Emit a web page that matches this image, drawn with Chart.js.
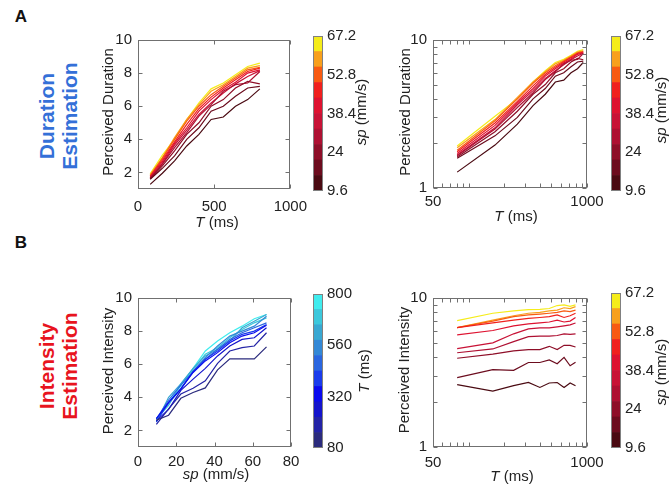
<!DOCTYPE html>
<html>
<head>
<meta charset="utf-8">
<script src="https://cdn.jsdelivr.net/npm/chart.js@4.4.0/dist/chart.umd.min.js"></script>
<style>
  body { margin: 0; background: #fff; font-family: "Liberation Sans", Arial, sans-serif; }
  #fig { position: relative; width: 670px; height: 491px; overflow: hidden; }
  #fig canvas { position: absolute; }
  .lbl { position: absolute; white-space: nowrap; color: #222; font-size: 15px; line-height: 18px; transform: translate(-50%, -50%); }
  .rot { transform: translate(-50%, -50%) rotate(-90deg); }
  .letter { position: absolute; font-weight: bold; font-size: 17px; color: #111; transform: translate(-50%, -50%); }
  .side { position: absolute; font-weight: bold; font-size: 21px; line-height: 23px; text-align: center; white-space: nowrap; transform: translate(-50%, -50%) rotate(-90deg); }
</style>
</head>
<body>
<div id="fig">
  <canvas id="durLin"></canvas>
  <canvas id="durLog"></canvas>
  <canvas id="intLin"></canvas>
  <canvas id="intLog"></canvas>
  <canvas id="cbA1"></canvas>
  <canvas id="cbA2"></canvas>
  <canvas id="cbB1"></canvas>
  <canvas id="cbB2"></canvas>

  <div class="letter" style="left:21px; top:17px;">A</div>
  <div class="letter" style="left:21px; top:243px;">B</div>
  <div class="side" style="left:58px; top:116px; color:#3470d8;">Duration<br>Estimation</div>
  <div class="side" style="left:58px; top:366px; color:#e8141e;">Intensity<br>Estimation</div>

  <div class="lbl rot" style="left:108px; top:112px;">Perceived Duration</div>
  <div class="lbl rot" style="left:405px; top:112px;">Perceived Duration</div>
  <div class="lbl rot" style="left:108px; top:371px;">Perceived Intensity</div>
  <div class="lbl rot" style="left:404px; top:370px;">Perceived Intensity</div>

  <div class="lbl" style="left:217px; top:222px;"><i>T</i> (ms)</div>
  <div class="lbl" style="left:516px; top:216px;"><i>T</i> (ms)</div>
  <div class="lbl" style="left:216px; top:474px;"><i>sp</i> (mm/s)</div>
  <div class="lbl" style="left:512px; top:476px;"><i>T</i> (ms)</div>

  <div class="lbl rot" style="left:361px; top:112px;"><i>sp</i> (mm/s)</div>
  <div class="lbl rot" style="left:661px; top:110px;"><i>sp</i> (mm/s)</div>
  <div class="lbl rot" style="left:364px; top:371px;"><i>T</i> (ms)</div>
  <div class="lbl rot" style="left:661px; top:372px;"><i>sp</i> (mm/s)</div>
</div>

<script>
// stimulus levels
const tValues = [80, 160, 240, 320, 400, 480, 560, 640, 720, 800];
const tValuesLogPlot = [80, 167, 258, 350, 444, 540, 636, 733, 831, 930];
const spValues = [9.6, 16, 22.4, 28.8, 35.2, 41.6, 48, 54.4, 60.8, 67.2];

// rows = speed (low -> high), columns = T
const durationBySpeed = [
  [1.28, 1.95, 2.7, 3.6, 4.3, 5.2, 5.35, 6.0, 6.4, 7.05],
  [1.59, 2.25, 3.0, 4.0, 4.7, 5.7, 6.0, 6.6, 7.1, 7.2],
  [1.62, 2.4, 3.3, 4.3, 5.0, 6.0, 6.4, 7.1, 7.5, 7.35],
  [1.65, 2.5, 3.5, 4.4, 5.4, 6.1, 6.9, 7.3, 7.4, 8.1],
  [1.67, 2.55, 3.65, 4.55, 5.5, 6.2, 6.8, 7.35, 7.8, 8.15],
  [1.71, 2.65, 3.75, 4.7, 5.7, 6.4, 7.0, 7.45, 8.0, 8.2],
  [1.76, 2.75, 3.85, 4.9, 5.85, 6.55, 7.1, 7.6, 8.1, 8.3],
  [1.8, 2.85, 4.0, 5.1, 6.0, 6.7, 7.2, 7.7, 8.2, 8.35],
  [1.87, 2.9, 4.1, 5.2, 6.1, 6.9, 7.3, 7.8, 8.3, 8.45],
  [1.92, 3.05, 4.0, 5.2, 6.2, 7.05, 7.4, 7.9, 8.4, 8.6]
];

const intensityBySpeed = [
  [2.62, 2.37, 2.58, 2.71, 2.51, 2.69, 2.71, 2.51, 2.69, 2.58],
  [2.92, 3.31, 3.27, 3.69, 3.69, 3.84, 3.62, 4.0, 3.51, 3.71],
  [3.94, 4.2, 4.42, 4.51, 4.51, 4.74, 4.51, 4.81, 4.81, 4.69],
  [4.29, 4.55, 5.1, 5.5, 5.55, 5.55, 5.6, 5.75, 5.7, 5.75],
  [4.57, 5.0, 5.75, 6.2, 6.3, 6.3, 6.4, 6.5, 6.6, 6.8],
  [5.66, 6.05, 6.5, 6.7, 6.8, 6.9, 7.1, 6.9, 7.0, 7.4],
  [6.32, 6.8, 7.1, 7.3, 7.4, 7.5, 7.7, 7.4, 7.6, 7.9],
  [6.32, 7.0, 7.5, 7.7, 7.8, 7.9, 8.0, 8.2, 8.1, 8.3],
  [6.32, 7.1, 7.6, 7.9, 8.0, 8.2, 8.3, 8.6, 8.5, 8.75],
  [7.05, 7.9, 8.2, 8.35, 8.4, 8.5, 8.9, 9.0, 8.8, 9.0]
];

const spColors = ["#4a0a12", "#6c0c1e", "#8e0e28", "#ae1032", "#c81236", "#de1230", "#f0201e", "#f85a12", "#f8a01c", "#f5ec1a"];
const tColors = ["#2b2b7d", "#2323a6", "#1414cc", "#0a0aee", "#1a3cec", "#2a66e0", "#3388d6", "#39a8d2", "#3cc8dc", "#40ecee"];

// colorbars
const spBandEdges = [9.6, 15.36, 21.12, 26.88, 32.64, 38.4, 44.16, 49.92, 55.68, 61.44, 67.2];
const tBandEdges = [80, 152, 224, 296, 368, 440, 512, 584, 656, 728, 800];
const spBarTicks = [9.6, 24, 38.4, 52.8, 67.2];
const tBarTicks = [80, 320, 560, 800];

// axis ticks
const tLinTicks = [0, 500, 1000];
const spLinTicks = [0, 20, 40, 60, 80];
const yLinTicks = [2, 4, 6, 8, 10];
const xLogTicks = [50, 60, 70, 80, 90, 100, 200, 300, 400, 500, 600, 700, 800, 900, 1000];
const xLogLabels = [50, 1000];
const yLogTicks = [1, 2, 3, 4, 5, 6, 7, 8, 9, 10];
const yLogLabels = [1, 10];

const FONT = { family: '"Liberation Sans", Arial, sans-serif', size: 15 };
const Y_W = 43, X_H = 30, PAD_T = 10, PAD_R = 24;

// box around the axes with inward ticks, matlab style
const boxTicks = {
  id: "boxTicks",
  afterDraw(chart) {
    const { ctx, chartArea: a } = chart;
    const x = chart.scales.x, y = chart.scales.y;
    const l = Math.round(a.left) + 0.5, r = Math.round(a.right) - 0.5;
    const t = Math.round(a.top) + 0.5, b = Math.round(a.bottom) - 0.5;
    ctx.save();
    ctx.strokeStyle = "#707070";
    ctx.lineWidth = 1;
    ctx.strokeRect(l, t, r - l, b - t);
    ctx.beginPath();
    x.ticks.forEach(tk => {
      const px = Math.round(x.getPixelForValue(tk.value)) + 0.5;
      ctx.moveTo(px, b); ctx.lineTo(px, b - 4);
      ctx.moveTo(px, t); ctx.lineTo(px, t + 4);
    });
    y.ticks.forEach(tk => {
      const py = Math.round(y.getPixelForValue(tk.value)) + 0.5;
      ctx.moveTo(l, py); ctx.lineTo(l + 4, py);
      ctx.moveTo(r, py); ctx.lineTo(r - 4, py);
    });
    ctx.stroke();
    ctx.restore();
  }
};

const barBorder = {
  id: "barBorder",
  afterDraw(chart) {
    const { ctx, chartArea: a } = chart;
    ctx.save();
    ctx.strokeStyle = "#808080";
    ctx.lineWidth = 1;
    ctx.strokeRect(Math.round(a.left) + 0.5, Math.round(a.top) + 0.5, Math.round(a.width) - 1, Math.round(a.height) - 1);
    ctx.restore();
  }
};

function axis(type, min, max, tickVals, labelVals, pos, pad) {
  return {
    type, min, max, position: pos,
    grid: { display: false, drawTicks: false },
    border: { display: false },
    afterBuildTicks: ax => { ax.ticks = tickVals.map(v => ({ value: v })); },
    afterFit: ax => { if (pos === "left") ax.width = Y_W; else ax.height = X_H; },
    ticks: {
      autoSkip: false, maxRotation: 0, padding: pad, color: "#222", font: FONT,
      callback: v => labelVals.includes(v) ? String(v) : ""
    }
  };
}

function linePanel(id, area, datasets, xAxis, yAxis) {
  const cv = document.getElementById(id);
  cv.width = area.r - area.l + Y_W + PAD_R;
  cv.height = area.b - area.t + PAD_T + X_H;
  cv.style.left = (area.l - Y_W) + "px";
  cv.style.top = (area.t - PAD_T) + "px";
  new Chart(cv, {
    type: "line",
    data: { datasets },
    options: {
      responsive: false,
      animation: false,
      layout: { padding: { top: PAD_T, right: PAD_R, left: 0, bottom: 0 } },
      plugins: { legend: { display: false }, tooltip: { enabled: false } },
      elements: { point: { radius: 0 }, line: { borderWidth: 1.2, tension: 0 } },
      scales: { x: xAxis, y: yAxis }
    },
    plugins: [boxTicks]
  });
}

function colorBar(id, bar, edges, colors, tickVals) {
  const cv = document.getElementById(id);
  cv.width = bar.r - bar.l + 45;
  cv.height = bar.b - bar.t + 20;
  cv.style.left = bar.l + "px";
  cv.style.top = (bar.t - 10) + "px";
  const datasets = colors.map((c, i) => ({
    data: [[edges[i], edges[i + 1]]],
    backgroundColor: c,
    borderWidth: 0,
    barPercentage: 1,
    categoryPercentage: 1,
    grouped: false
  }));
  new Chart(cv, {
    type: "bar",
    data: { labels: [""], datasets },
    options: {
      responsive: false,
      animation: false,
      layout: { padding: { top: 10, bottom: 10, left: 0, right: 0 } },
      plugins: { legend: { display: false }, tooltip: { enabled: false } },
      scales: {
        x: { display: false, stacked: true },
        y: {
          position: "right", min: edges[0], max: edges[edges.length - 1],
          grid: { display: false, drawTicks: false },
          border: { display: false },
          afterBuildTicks: ax => { ax.ticks = tickVals.map(v => ({ value: v })); },
          afterFit: ax => { ax.width = 45; },
          ticks: { padding: 4, autoSkip: false, color: "#222", font: FONT, callback: v => String(v) }
        }
      }
    },
    plugins: [barBorder]
  });
}

// A: duration, one line per speed
const durLinSets = spValues.map((s, i) => ({
  data: tValues.map((t, j) => ({ x: t, y: durationBySpeed[i][j] })),
  borderColor: spColors[i]
}));
const durLogSets = spValues.map((s, i) => ({
  data: tValuesLogPlot.map((t, j) => ({ x: t, y: durationBySpeed[i][j] })),
  borderColor: spColors[i]
}));

// B left: intensity vs speed, one line per T
const intLinSets = tValues.map((t, j) => ({
  data: spValues.map((s, i) => ({ x: s, y: intensityBySpeed[i][j] })),
  borderColor: tColors[j]
}));
// B right: intensity vs T, one line per speed
const intLogSets = spValues.map((s, i) => ({
  data: tValues.map((t, j) => ({ x: t, y: intensityBySpeed[i][j] })),
  borderColor: spColors[i]
}));

linePanel("durLin", { l: 138, r: 292, t: 35, b: 189 }, durLinSets,
  axis("linear", 0, 1000, tLinTicks, tLinTicks, "bottom", 9),
  axis("linear", 1, 10, yLinTicks, yLinTicks, "left", 6));

linePanel("durLog", { l: 433, r: 587, t: 35, b: 188 }, durLogSets,
  axis("logarithmic", 50, 1000, xLogTicks, xLogLabels, "bottom", 5),
  axis("logarithmic", 1, 10, yLogTicks, yLogLabels, "left", 6));

linePanel("intLin", { l: 138, r: 291, t: 293, b: 447 }, intLinSets,
  axis("linear", 0, 80, spLinTicks, spLinTicks, "bottom", 6),
  axis("linear", 1, 10, yLinTicks, yLinTicks, "left", 6));

linePanel("intLog", { l: 433, r: 587, t: 293, b: 447 }, intLogSets,
  axis("logarithmic", 50, 1000, xLogTicks, xLogLabels, "bottom", 7),
  axis("logarithmic", 1, 10, yLogTicks, yLogLabels, "left", 6));

colorBar("cbA1", { l: 313, r: 323, t: 33, b: 194 }, spBandEdges, spColors, spBarTicks);
colorBar("cbA2", { l: 611, r: 621, t: 33, b: 194 }, spBandEdges, spColors, spBarTicks);
colorBar("cbB1", { l: 313, r: 323, t: 291, b: 451 }, tBandEdges, tColors, tBarTicks);
colorBar("cbB2", { l: 611, r: 621, t: 290, b: 451 }, spBandEdges, spColors, spBarTicks);
</script>
</body>
</html>
